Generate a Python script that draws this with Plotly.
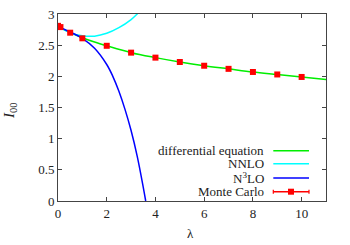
import plotly.graph_objects as go

# Data
de_x = [0, 0.25, 0.5, 0.75, 1, 1.5, 2, 3, 4, 5, 6, 7, 8, 9, 10, 11]
de_y = [2.80, 2.75, 2.70, 2.66, 2.62, 2.55, 2.49, 2.38, 2.30, 2.23, 2.17, 2.12, 2.07, 2.03, 1.99, 1.95]

nnlo_x = [0, 0.5, 1.0, 1.5, 2.0, 2.5, 3.0, 3.25, 3.4]
nnlo_y = [2.80, 2.70, 2.65, 2.645, 2.69, 2.78, 2.91, 3.0, 3.06]

n3lo_x = [0, 0.5, 1.0, 1.5, 2.0, 2.25, 2.5, 2.75, 3.0, 3.25, 3.5, 3.6]
n3lo_y = [2.80, 2.71, 2.61, 2.45, 2.19, 2.00, 1.76, 1.47, 1.13, 0.72, 0.22, 0.0]

mc_x = [0, 0.1, 0.5, 1, 2, 3, 4, 5, 6, 7, 8, 9, 10]
mc_y = [2.81, 2.79, 2.70, 2.61, 2.49, 2.38, 2.30, 2.23, 2.17, 2.12, 2.07, 2.03, 1.99]

x_ticks = [0, 2, 4, 6, 8, 10]
y_ticks = [0, 0.5, 1, 1.5, 2, 2.5, 3]
y_ticklabels = ["0", "0.5", "1", "1.5", "2", "2.5", "3"]

legend_names = ["differential equation", "NNLO", "N<sup>3</sup>LO", "Monte Carlo"]
legend_colors = ["#00ee00", "#00ffff", "#0000ff", "#ff0000"]

FONT = "Liberation Serif"
FS = 13
TXT = "#222"

W, H = 350, 245

fig = go.Figure()
fig.add_trace(go.Scatter(x=de_x, y=de_y, mode="lines", line=dict(color=legend_colors[0], width=1.5, shape="spline"), showlegend=False))
fig.add_trace(go.Scatter(x=nnlo_x, y=nnlo_y, mode="lines", line=dict(color=legend_colors[1], width=1.5, shape="spline"), showlegend=False))
fig.add_trace(go.Scatter(x=n3lo_x, y=n3lo_y, mode="lines", line=dict(color=legend_colors[2], width=1.5, shape="spline"), showlegend=False))
fig.add_trace(go.Scatter(x=mc_x, y=mc_y, mode="markers", marker=dict(color=legend_colors[3], symbol="square", size=6), showlegend=False))

# plot area in page pixels (reference)
L, R, T, B = 58, 326, 14, 201
def px(xp):
    return (xp - L) / (R - L)
def py(yp):
    return (B - yp) / (B - T)

# Manual legend (text on the left, sample on the right, gnuplot style)
rows = [150.7, 163.7, 178.0, 191.7]
for name, col, yr in zip(legend_names, legend_colors, rows):
    fig.add_annotation(x=px(266), y=py(yr), xref="paper", yref="paper", text=name, showarrow=False,
                       xanchor="right", yanchor="middle", font=dict(family=FONT, size=FS, color=TXT))
    fig.add_shape(type="line", xref="paper", yref="paper", x0=px(273.3), x1=px(309), y0=py(yr), y1=py(yr),
                  line=dict(color=col, width=1.5))
for xc in (273.3, 309):
    fig.add_shape(type="line", xref="paper", yref="paper", x0=px(xc), x1=px(xc), y0=py(rows[3] - 2), y1=py(rows[3] + 2),
                  line=dict(color=legend_colors[3], width=1.2))
fig.add_shape(type="rect", xref="paper", yref="paper", x0=px(288), x1=px(294), y0=py(rows[3] - 3), y1=py(rows[3] + 3),
              line=dict(width=0), fillcolor=legend_colors[3])

# Axis titles
fig.add_annotation(x=px(190), y=py(233), xref="paper", yref="paper", text="λ", showarrow=False,
                   xanchor="center", yanchor="middle", font=dict(family=FONT, size=FS, color=TXT))
fig.add_annotation(x=px(10), y=py(111), xref="paper", yref="paper", text="<i>I</i><sub>00</sub>", showarrow=False,
                   textangle=-90, xanchor="center", yanchor="middle", font=dict(family=FONT, size=15, color=TXT))

axis_common = dict(showline=True, linecolor="#444", linewidth=1, mirror="ticks", ticks="inside", ticklen=4,
                   tickcolor="#444", showgrid=False, zeroline=False, automargin=False,
                   tickfont=dict(family=FONT, size=FS, color=TXT))

fig.update_layout(
    width=W, height=H,
    margin=dict(l=L, r=W - R, t=T, b=H - B),
    plot_bgcolor="white", paper_bgcolor="white",
    xaxis=dict(range=[0, 11], tickvals=x_ticks, **axis_common),
    yaxis=dict(range=[0, 3], tickvals=y_ticks, ticktext=y_ticklabels, **axis_common),
    showlegend=False,
)

fig.write_html("out.html", config={"displayModeBar": False},
               post_script="document.body.style.margin='0';")
